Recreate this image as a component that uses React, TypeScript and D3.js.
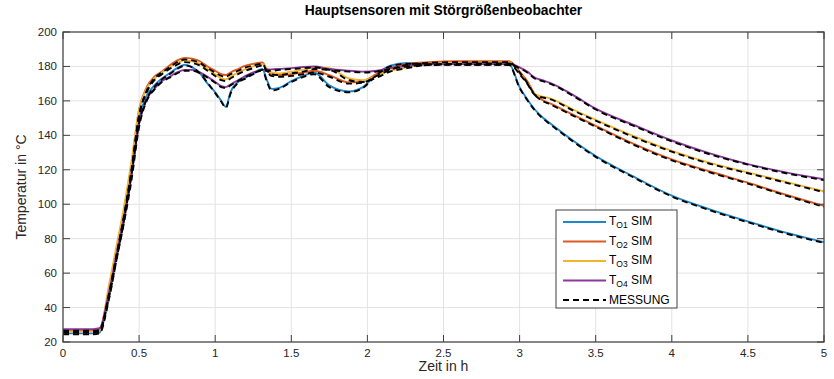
import React from "react";
import * as d3 from "d3";

const TIME = [0, 0.1, 0.2, 0.24, 0.3, 0.35, 0.4, 0.45, 0.5, 0.55, 0.6, 0.65, 0.7, 0.75, 0.8, 0.85, 0.9, 0.95, 1.0, 1.04, 1.07, 1.1, 1.15, 1.2, 1.25, 1.31, 1.34, 1.37, 1.42, 1.5, 1.58, 1.65, 1.75, 1.88, 1.97, 2.06, 2.15, 2.26, 2.4, 2.6, 2.8, 2.93, 3.0, 3.05, 3.1, 3.15, 3.2, 3.35, 3.5, 3.75, 4.0, 4.25, 4.5, 4.75, 5.0];

const T_O1_SIM = [25, 25, 25, 25.5, 47, 70, 93, 120, 150, 163, 169, 173, 176, 179, 181, 179.5, 176, 170, 165, 160, 156.5, 165, 171, 173.5, 176, 178.5, 172, 167, 167.5, 171.5, 174.5, 176.5, 169, 165.5, 168, 175.5, 180.4, 182, 181.8, 181.5, 181.5, 181.5, 168, 161, 155, 150.5, 147, 137, 128, 116, 105, 97, 90, 83.5, 78];
const T_O2_SIM = [26.5, 26.5, 26.5, 27, 50, 73, 96, 123, 155, 168, 174, 177, 180.5, 183.5, 185, 184.5, 183, 180, 177.5, 175.5, 175, 176.5, 178.5, 180.5, 181.5, 182.3, 178, 175.5, 175, 175.5, 176.5, 177.5, 175, 170.7, 171.5, 175.5, 179, 181.5, 182.5, 183, 183, 183, 177, 171.5, 164, 160.5, 158.5, 152, 145.5, 135, 126, 119, 112.5, 105.5, 99];
const T_O3_SIM = [26, 26, 26, 26.5, 52, 75, 98, 125, 155, 167, 173, 176.5, 179.5, 182, 183.5, 183, 181.5, 178.5, 175.5, 173, 172.5, 174, 176.5, 178.5, 180, 181.4, 178.5, 176.5, 176, 177, 178, 179.5, 179, 173, 172, 174.5, 177.5, 179.5, 181.5, 182, 182.3, 182.3, 176, 170.5, 164, 162.5, 161.5, 155, 149, 139.5, 131, 124, 118.5, 113, 107.5];
const T_O4_SIM = [27.5, 27.5, 27.5, 28, 48, 70, 92, 117, 147, 161, 167, 171.5, 174, 176.5, 178, 178, 176.5, 174, 171, 168.5, 168, 169.5, 172, 174.5, 176.5, 178, 178.2, 178.3, 178.6, 179, 179.7, 180, 178.5, 177.5, 177, 177.5, 179, 180.4, 181.2, 181.4, 181.4, 181.4, 179.5, 177, 173.5, 172, 170.5, 163.5, 155.5, 146, 137, 129.5, 123.3, 118.5, 114.5];

const MESS_1 = [24.5, 24.5, 24.5, 25, 44, 67, 90, 117, 147, 161, 168, 172.5, 175.5, 178.5, 180.5, 179.5, 176, 170.5, 164.5, 159.5, 156, 164, 170.5, 173, 175.5, 178, 171, 166, 167, 171, 174, 175.5, 168, 165, 167.5, 175, 180, 181.5, 181.3, 181, 181, 181, 167.5, 160.5, 154.5, 150, 146.5, 136.5, 127.5, 115.5, 104.5, 96.5, 89.5, 83, 77.5];
const MESS_2 = [25.5, 25.5, 25.5, 26, 46, 69, 92, 119, 151, 166, 173, 176.5, 179.5, 182.5, 184, 183.5, 182, 179, 176.5, 174.5, 174, 175.5, 177.5, 179.5, 180.5, 181.5, 177, 174.5, 174, 174.5, 175.5, 176.5, 174, 170, 170.5, 174.5, 178, 181, 182, 182.5, 182.5, 182.5, 176.5, 170.5, 163.5, 160, 158, 151.5, 145, 134.5, 125.5, 118.5, 112, 105, 98.5];
const MESS_3 = [26, 26, 26, 26.5, 47, 70, 93, 120, 152, 165, 172, 175.5, 178.5, 181, 182.5, 182, 180.5, 177.5, 174.5, 172, 171.5, 173, 175.5, 177.5, 179, 180.5, 177.5, 175.5, 175, 176, 177, 178.5, 178, 172, 171, 173.5, 177, 179, 181, 181.5, 181.8, 181.8, 175.5, 170, 163.5, 162, 161, 154.5, 148.5, 139, 130.5, 123.5, 118, 112.5, 107];
const MESS_4 = [26.5, 26.5, 26.5, 27, 45, 67, 89, 114, 145, 160, 166.5, 171, 173.5, 176, 177.5, 177.5, 176, 173.5, 170.5, 168, 167.5, 169, 171.5, 174, 176, 177.5, 177.5, 177.5, 178, 178.5, 179, 179.5, 178, 177, 176.5, 177, 178.5, 180, 180.8, 181, 181, 181, 179, 176.5, 173, 171.5, 170, 163, 155, 145.5, 136.5, 129, 123, 118, 114];

const X_TICKS = [0, 0.5, 1, 1.5, 2, 2.5, 3, 3.5, 4, 4.5, 5];
const Y_TICKS = [20, 40, 60, 80, 100, 120, 140, 160, 180, 200];
const SIM_SERIES = [
  { sub: "O1", values: T_O1_SIM, color: "#1f88cc" },
  { sub: "O2", values: T_O2_SIM, color: "#dd5a22" },
  { sub: "O3", values: T_O3_SIM, color: "#efb52e" },
  { sub: "O4", values: T_O4_SIM, color: "#8a3a9a" },
];
const MESS_SERIES = [MESS_1, MESS_2, MESS_3, MESS_4];

const W = 834, H = 379;
const L = 63, R = 824, T = 32, B = 342;
const FONT = "'Liberation Sans', Arial, Helvetica, sans-serif";

export default function App() {
  const x = d3.scaleLinear().domain([0, 5]).range([L, R]);
  const y = d3.scaleLinear().domain([20, 200]).range([B, T]);
  const line = (vals: number[]) =>
    d3.line<number>().x((_, i) => x(TIME[i])).y((v) => y(v)).curve(d3.curveMonotoneX)(vals) || "";
  const tickLen = 7;
  const axisColor = "#404040";
  const legX = 556, legY = 210, legW = 121, legH = 98;
  const rowYs = [222, 241.5, 261, 280.5, 300];
  return (
    <div>
      <style>{`body{margin:0;}`}</style>
      <svg width={W} height={H} style={{ display: "block", background: "#fff" }} fontFamily={FONT}>
        <rect x={0} y={0} width={W} height={H} fill="#fff" />
        {X_TICKS.map((t) => (
          <line key={"gx" + t} x1={x(t)} x2={x(t)} y1={T} y2={B} stroke="#e3e3e3" strokeWidth={1} />
        ))}
        {Y_TICKS.map((v) => (
          <line key={"gy" + v} x1={L} x2={R} y1={y(v)} y2={y(v)} stroke="#e3e3e3" strokeWidth={1} />
        ))}
        <defs>
          <clipPath id="clip">
            <rect x={L} y={T} width={R - L} height={B - T} />
          </clipPath>
        </defs>
        <g clipPath="url(#clip)">
          {SIM_SERIES.map((s) => (
            <path key={s.sub} d={line(s.values)} fill="none" stroke={s.color} strokeWidth={1.9} />
          ))}
          {MESS_SERIES.map((m, i) => (
            <path key={"m" + i} d={line(m)} fill="none" stroke="#000" strokeWidth={1.9} strokeDasharray="6,4" />
          ))}
        </g>
        <rect x={L} y={T} width={R - L} height={B - T} fill="none" stroke={axisColor} strokeWidth={1.2} />
        {X_TICKS.map((t) => (
          <g key={"tx" + t}>
            <line x1={x(t)} x2={x(t)} y1={B} y2={B - tickLen} stroke={axisColor} />
            <line x1={x(t)} x2={x(t)} y1={T} y2={T + tickLen} stroke={axisColor} />
            <text x={x(t)} y={357} textAnchor="middle" fontSize={11.5} fill="#262626">{String(t)}</text>
          </g>
        ))}
        {Y_TICKS.map((v) => (
          <g key={"ty" + v}>
            <line x1={L} x2={L + tickLen} y1={y(v)} y2={y(v)} stroke={axisColor} />
            <line x1={R} x2={R - tickLen} y1={y(v)} y2={y(v)} stroke={axisColor} />
            <text x={57} y={y(v) + 4} textAnchor="end" fontSize={11.5} fill="#262626">{String(v)}</text>
          </g>
        ))}
        <text x={(L + R) / 2} y={15} textAnchor="middle" fontSize={13.8} fontWeight="bold" fill="#000">
          Hauptsensoren mit Störgrößenbeobachter
        </text>
        <text x={(L + R) / 2} y={371} textAnchor="middle" fontSize={14} fill="#262626">Zeit in h</text>
        <text transform={`translate(26,${(T + B) / 2}) rotate(-90)`} textAnchor="middle" fontSize={14} fill="#262626">
          Temperatur in °C
        </text>
        <rect x={legX} y={legY} width={legW} height={legH} fill="#fff" stroke={axisColor} strokeWidth={1} />
        {SIM_SERIES.map((s, i) => (
          <g key={"lg" + s.sub}>
            <line x1={563} x2={606} y1={rowYs[i]} y2={rowYs[i]} stroke={s.color} strokeWidth={1.9} />
            <text x={609} y={rowYs[i] + 3} fontSize={12} fill="#000">
              T<tspan fontSize={8.5} dy={3}>{s.sub}</tspan><tspan dy={-3}> SIM</tspan>
            </text>
          </g>
        ))}
        <line x1={563} x2={606} y1={rowYs[4]} y2={rowYs[4]} stroke="#000" strokeWidth={1.9} strokeDasharray="6,4" />
        <text x={609} y={rowYs[4] + 4} fontSize={12} fill="#000">MESSUNG</text>
      </svg>
    </div>
  );
}
